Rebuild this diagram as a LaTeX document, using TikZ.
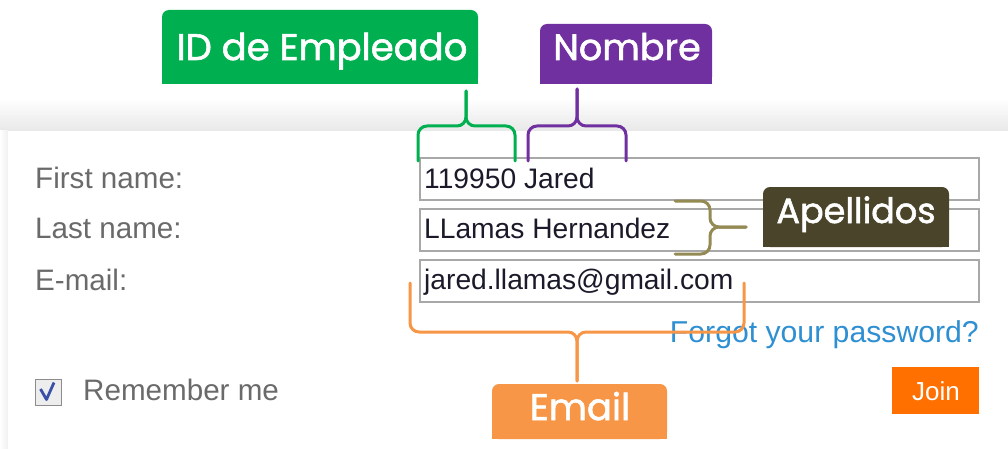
\documentclass[tikz,border=0pt]{standalone}
\usepackage{fontspec}
\setmainfont{Liberation Sans}
\newfontfamily\tagfont{Poppins}[FakeBold=1.6]
\definecolor{idgreen}{HTML}{00B050}
\definecolor{nompurple}{HTML}{7030A0}
\definecolor{apebrown}{HTML}{4A452A}
\definecolor{apebrace}{HTML}{948A54}
\definecolor{emailorange}{HTML}{F79646}
\definecolor{joinorange}{HTML}{FF7000}
\definecolor{lblgray}{HTML}{6A6A6A}
\definecolor{fieldink}{HTML}{1A1A2A}
\definecolor{fieldgray}{HTML}{A8A8A8}
\definecolor{linkblue}{HTML}{2E8FD2}
\definecolor{checkblue}{HTML}{3A4FA8}
\begin{document}
\begin{tikzpicture}[x=1pt,y=-1pt,
  fieldtxt/.style={anchor=base west, inner sep=0pt, text=fieldink, font=\fontsize{28.2}{30}\selectfont},
  formlbl/.style={anchor=base west, inner sep=0pt, text=lblgray, font=\fontsize{29.6}{31}\selectfont},
  field/.style={draw=fieldgray, line width=1.6pt, fill=white, anchor=north west, inner sep=0pt, minimum width=559pt, minimum height=42pt},
  tagtxt/.style={anchor=base, inner sep=0pt, text=white},
  bracepath/.style={line width=3pt, rounded corners=9pt, line cap=round}]
\useasboundingbox (0,0) rectangle (1008,449);
\fill[white] (0,0) rectangle (1008,449);
% panel shadow
\shade[top color=white, bottom color=black!9] (0,98) rectangle (1008,131);
\shade[left color=white, right color=black!6] (0,131) rectangle (8,449);
\fill[white] (8,131) rectangle (1008,449);

% form labels
\node[formlbl] (lfirst) at (35,188) {First name:};
\node[formlbl] (llast) at (35,238) {Last name:};
\node[formlbl] (lmail) at (35,290) {E-mail:};
\node[formlbl] (lrem) at (83,400) {Remember me};

% checkbox
\node[draw=black!45, line width=1.5pt, fill=black!7, minimum size=26pt, inner sep=0pt, anchor=north west] (chk) at (34.5,378.5) {};
\draw[checkblue, line width=2.8pt, line join=round] (40.5,389) -- (46.5,399.5) -- (54,382.5);

% fields
\node[field] (f1) at (419,157) {};
\node[field] (f2) at (419,208) {};
\node[field] (f3) at (419,259) {};
\node[fieldtxt] (t1) at (424,189) {119950 Jared};
\node[fieldtxt] (t2) at (424,238) {LLamas Hernandez};
\node[fieldtxt] (t3) at (424,289) {jared.llamas@gmail.com};

% link and button
\node[anchor=base east, inner sep=0pt, text=linkblue, font=\fontsize{30.2}{32}\selectfont] (forgot) at (979,342) {Forgot your password?};
\node[fill=joinorange, anchor=north west, minimum width=87pt, minimum height=47pt, inner sep=0pt] (join) at (892,367) {};
\node[anchor=base, inner sep=0pt, text=white, font=\fontsize{26}{28}\selectfont] (jointxt) at (936,400) {Join};

% tag boxes (rounded top corners)
\fill[idgreen, rounded corners=7pt] (162,10) rectangle (478,84);
\fill[idgreen] (162,40) rectangle (478,84);
\fill[nompurple, rounded corners=7pt] (540,24) rectangle (712,84);
\fill[nompurple] (540,50) rectangle (712,84);
\fill[apebrown, rounded corners=7pt] (763,187) rectangle (949,247);
\fill[apebrown] (763,215) rectangle (949,247);
\fill[emailorange, rounded corners=7pt] (492,384) rectangle (667,439);
\fill[emailorange] (492,410) rectangle (667,439);

\node[tagtxt, font=\tagfont\fontsize{37}{40}\selectfont] (idtag) at (322,60) {ID de Empleado};
\node[tagtxt, font=\tagfont\fontsize{36.5}{39}\selectfont] (nomtag) at (627,60) {Nombre};
\node[tagtxt, font=\tagfont\fontsize{35}{37}\selectfont] (apetag) at (856,223) {Apellidos};
\node[tagtxt, font=\tagfont\fontsize{37}{39}\selectfont] (mailtag) at (580,420) {Email};

% brace coordinates
\coordinate (gL) at (418,161); \coordinate (gR) at (515,161); \coordinate (gT) at (466,91);
\coordinate (pL) at (528,161); \coordinate (pR) at (626,161); \coordinate (pT) at (577,89);
\coordinate (oL) at (410,283); \coordinate (oR) at (744,283); \coordinate (oT) at (577,381);
\coordinate (aU) at (675,201); \coordinate (aD) at (675,254); \coordinate (aT) at (746,227);

% braces
\draw[bracepath, idgreen] (gL) |- (gT |- 0,126) -- (gT);
\draw[bracepath, idgreen] (gR) |- (gT |- 0,126) -- (gT);
\draw[bracepath, nompurple] (pL) |- (pT |- 0,126) -- (pT);
\draw[bracepath, nompurple] (pR) |- (pT |- 0,126) -- (pT);
\draw[bracepath, emailorange] (oL) |- (oT |- 0,332) -- (oT);
\draw[bracepath, emailorange] (oR) |- (oT |- 0,332) -- (oT);
\draw[bracepath, apebrace] (aU) -| (710,227) -- (aT);
\draw[bracepath, apebrace] (aD) -| (710,227) -- (aT);
\end{tikzpicture}
\end{document}
